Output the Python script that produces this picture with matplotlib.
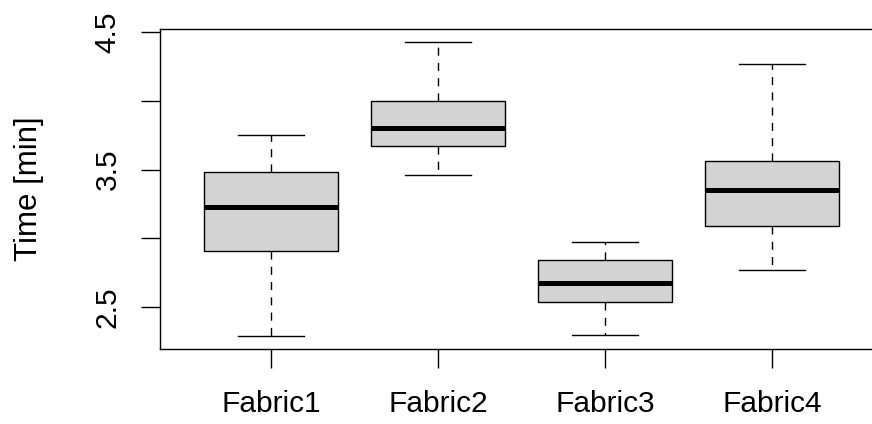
import matplotlib
matplotlib.use("Agg")
import matplotlib.pyplot as plt

# five-number summaries
fabrics = ["Fabric1", "Fabric2", "Fabric3", "Fabric4"]
whis_lo = [2.29, 3.46, 2.30, 2.77]
q1 = [2.91, 3.67, 2.54, 3.09]
medians = [3.23, 3.80, 2.675, 3.35]
q3 = [3.48, 4.00, 2.84, 3.56]
whis_hi = [3.75, 4.43, 2.975, 4.265]

yticks = [2.5, 3.0, 3.5, 4.0, 4.5]
ytick_labels = ["2.5", "", "3.5", "", "4.5"]


def main():
    plt.rcParams["font.family"] = ["Liberation Sans", "DejaVu Sans"]
    fig = plt.figure(figsize=(8.72, 4.24), dpi=100)
    ax = fig.add_axes([160 / 872, 1 - 349 / 424, 723 / 872, 320 / 424])

    stats = []
    for i in range(len(fabrics)):
        stats.append({"label": fabrics[i], "whislo": whis_lo[i], "q1": q1[i],
                      "med": medians[i], "q3": q3[i], "whishi": whis_hi[i],
                      "fliers": []})

    ax.bxp(stats, positions=[1, 2, 3, 4], widths=0.8, patch_artist=True,
           showfliers=False,
           boxprops=dict(facecolor="#d3d3d3", edgecolor="black", linewidth=1.0),
           medianprops=dict(color="black", linewidth=3.6, solid_capstyle="butt"),
           whiskerprops=dict(color="black", linewidth=1.0, linestyle=(0, (5.8, 5.2))),
           capprops=dict(color="black", linewidth=1.0),
           capwidths=0.4)

    ax.set_xlim(0.335, 4.665)
    ax.set_ylim(2.195, 4.522)
    ax.set_yticks(yticks)
    ax.set_yticklabels(ytick_labels, rotation=90, va="center")
    ax.set_xticks([1, 2, 3, 4])
    ax.set_xticklabels(fabrics)
    ax.tick_params(axis="both", labelsize=21.5, length=13.7, width=1.0)
    ax.tick_params(axis="y", pad=14)
    ax.tick_params(axis="x", pad=15.5)
    ax.set_ylabel("Time [min]", fontsize=22.5, labelpad=36)
    for s in ax.spines.values():
        s.set_linewidth(1.0)

    fig.savefig("out.png", dpi=100)


if __name__ == "__main__":
    main()
